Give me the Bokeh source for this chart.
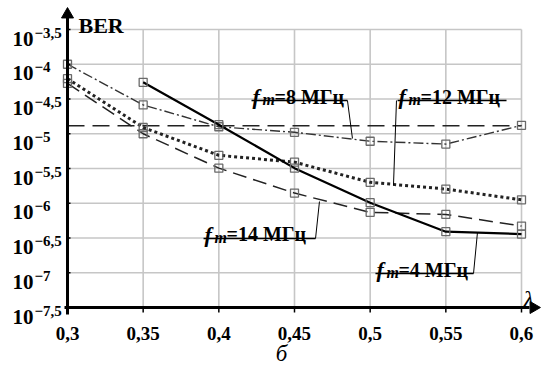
import numpy as np
from bokeh.plotting import figure
from bokeh.models import Range1d
from bokeh.core.properties import value
from bokeh.embed import file_html
from bokeh.resources import INLINE

# ---------------- data ----------------
lam = [0.3, 0.35, 0.4, 0.45, 0.5, 0.55, 0.6]
lam_4 = [0.35, 0.4, 0.45, 0.5, 0.55, 0.6]
ber_8 = [1.0e-4, 2.6e-5, 1.26e-5, 1.05e-5, 7.8e-6, 7.1e-6, 1.32e-5]
ber_4 = [5.5e-5, 1.35e-5, 3.2e-6, 1.02e-6, 3.9e-7, 3.6e-7]
ber_12 = [6.2e-5, 1.23e-5, 4.9e-6, 3.9e-6, 2.0e-6, 1.6e-6, 1.12e-6]
ber_14 = [5.3e-5, 1.0e-5, 3.2e-6, 1.4e-6, 7.4e-7, 6.9e-7, 4.7e-7]
ber_threshold = 1.3e-5

x_ticks = [0.3, 0.35, 0.4, 0.45, 0.5, 0.55, 0.6]
x_tick_labels = ["0,3", "0,35", "0,4", "0,45", "0,5", "0,55", "0,6"]
y_tick_exp = [-3.5, -4.0, -4.5, -5.0, -5.5, -6.0, -6.5, -7.0, -7.5]
y_tick_sup = ["\u22123,5", "\u22124", "\u22124,5", "\u22125", "\u22125,5",
              "\u22126", "\u22126,5", "\u22127", "\u22127,5"]

# ---------------- geometry ----------------
W, H = 541, 368
XS = 1513.33   # px per unit of lambda
YS = 69.5      # px per decade
X0PX, Y0PX = 67, 29   # canvas position of (0.3, 1e-3.5)
xmin, xmax = x_ticks[0], x_ticks[-1]
ymin, ymax = y_tick_exp[-1], y_tick_exp[0]

def dx(px):
    return px / XS

def dy(px):
    return px / YS

x_range = Range1d(xmin - X0PX / XS, xmin + (W - X0PX) / XS)
y_range = Range1d(ymax - (H - Y0PX) / YS, ymax + Y0PX / YS)

p = figure(width=W, height=H, x_range=x_range, y_range=y_range,
           output_backend="svg", toolbar_location=None,
           x_axis_location=None, y_axis_location=None,
           min_border=0, min_border_left=0, min_border_right=0,
           min_border_top=0, min_border_bottom=0,
           outline_line_color=None, background_fill_color="white",
           border_fill_color="white")
p.xgrid.visible = False
p.ygrid.visible = False

FONT = value("'Liberation Serif', 'Times New Roman', serif")
GRID = "#c6c6c6"

# grid
p.segment(x0=[xmin] * len(y_tick_exp), x1=[xmax] * len(y_tick_exp),
          y0=y_tick_exp, y1=y_tick_exp, line_color=GRID, line_width=1.6)
p.segment(x0=x_ticks, x1=x_ticks, y0=[ymin] * len(x_ticks),
          y1=[ymax] * len(x_ticks), line_color=GRID, line_width=1.6)

# series
y8 = np.log10(ber_8)
y4 = np.log10(ber_4)
y12 = np.log10(ber_12)
y14 = np.log10(ber_14)
yth = np.log10(ber_threshold)

p.line([xmin, xmax], [yth, yth], line_color="#222222", line_width=1.5,
       line_dash="17 8")
mk = dict(size=8, marker="square", fill_color=None, line_color="#6a6a6a",
          line_width=1.3)
p.line(lam, y8, line_color="#333333", line_width=1.4, line_dash="10 3 2 3")
p.scatter(lam, y8, **mk)
p.line(lam, y14, line_color="#222222", line_width=1.5, line_dash="14 7")
p.scatter(lam, y14, **mk)
p.line(lam, y12, line_color="#222222", line_width=3, line_dash="3 3")
p.scatter(lam, y12, **mk)
p.line(lam_4, y4, line_color="black", line_width=2.2)
p.scatter(lam_4, y4, **mk)

# axes
p.line([xmin, xmin], [ymin - dy(7), ymax + dy(14)], line_color="black",
       line_width=3)
p.line([xmin - dx(3), xmax + dx(8)], [ymin, ymin], line_color="black",
       line_width=3)
p.scatter([xmin], [ymax + dy(15)], marker="triangle", size=12,
          fill_color="black", line_color="black")
p.scatter([xmax + dx(12)], [ymin], marker="triangle", size=12, angle=-np.pi / 2,
          fill_color="black", line_color="black")
# tick marks
p.segment(x0=x_ticks, x1=x_ticks, y0=[ymin] * len(x_ticks),
          y1=[ymin - dy(5)] * len(x_ticks), line_color="black", line_width=1.5)
p.segment(x0=[xmin] * len(y_tick_exp), x1=[xmin + dx(3)] * len(y_tick_exp),
          y0=y_tick_exp, y1=y_tick_exp, line_color="black", line_width=1.5)

# tick labels
p.text(x=x_ticks, y=[ymin] * len(x_ticks), text=x_tick_labels,
       text_font=FONT, text_font_size="19px", text_font_style="bold",
       text_align="center", text_baseline="alphabetic", y_offset=26,
       text_color="black")
p.text(x=[xmin] * len(y_tick_exp), y=y_tick_exp, text=["10"] * len(y_tick_exp),
       text_font=FONT, text_font_size="21px", text_font_style="bold",
       text_align="left", text_baseline="alphabetic", x_offset=-55, y_offset=9,
       text_color="black")
p.text(x=[xmin] * len(y_tick_exp), y=y_tick_exp, text=y_tick_sup,
       text_font=FONT, text_font_size="15px", text_font_style="bold",
       text_align="left", text_baseline="alphabetic", x_offset=-33, y_offset=3,
       text_color="black")

# axis titles
p.text(x=[xmin], y=[ymax], text=["BER"], text_font=FONT, text_font_size="22px",
       text_font_style="bold", text_align="left", text_baseline="alphabetic",
       x_offset=11, y_offset=-4, text_color="black")
p.text(x=[xmax], y=[ymin], text=["\u03bb"], text_font=FONT,
       text_font_size="24px", text_font_style="italic", text_align="left",
       text_baseline="alphabetic", x_offset=2, y_offset=-9, text_color="black")
p.text(x=[0.4414], y=[ymin], text=["\u0431"], text_font=FONT,
       text_font_size="23px", text_font_style="italic", text_align="center",
       text_baseline="alphabetic", y_offset=46, text_color="black")

# curve labels: (text, underline x0, x1, underline y, leader from x, leader to (x, y))
labels = [
    ("=8 \u041c\u0413\u0446", 0.4216, 0.4850, -4.5216, 0.4850, 0.4883, -5.068),
    ("=12 \u041c\u0413\u0446", 0.5181, 0.5901, -4.5216, 0.5174, 0.5154, -5.745),
    ("=14 \u041c\u0413\u0446", 0.3899, 0.4639, -6.507, 0.4639, 0.4665, -5.975),
    ("=4 \u041c\u0413\u0446", 0.5035, 0.5683, -7.011, 0.5683, 0.5709, -6.421),
]
for txt, ux0, ux1, uy, lx, tx, ty in labels:
    p.line([ux0, ux1], [uy, uy], line_color="black", line_width=1.3)
    p.line([lx, tx], [uy, ty], line_color="black", line_width=1)
    p.text(x=[ux0], y=[uy], text=["f"], text_font=FONT, text_font_size="22px",
           text_font_style="bold italic", text_align="left",
           text_baseline="alphabetic", x_offset=1, y_offset=-4,
           text_color="black")
    p.text(x=[ux0], y=[uy], text=["m"], text_font=FONT, text_font_size="16px",
           text_font_style="bold italic", text_align="left",
           text_baseline="alphabetic", x_offset=11, y_offset=-1,
           text_color="black")
    p.text(x=[ux0], y=[uy], text=[txt], text_font=FONT, text_font_size="20px",
           text_font_style="bold", text_align="left",
           text_baseline="alphabetic", x_offset=23, y_offset=-4,
           text_color="black")

open("out.html", "w").write(file_html(p, INLINE))
